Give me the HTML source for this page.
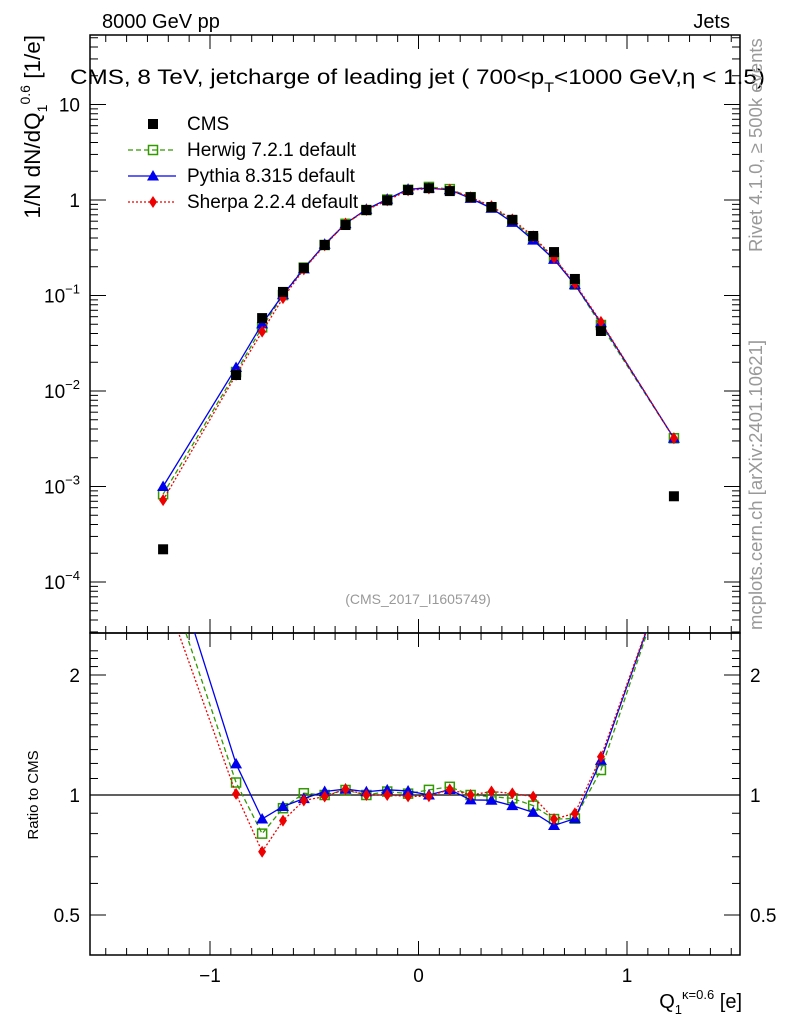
<!DOCTYPE html>
<html><head><meta charset="utf-8"><style>
body{margin:0;background:#fff;}
svg text{font-family:"Liberation Sans",sans-serif;}
</style></head><body>
<svg id="c" width="786" height="1024" xmlns="http://www.w3.org/2000/svg">
<defs>
<clipPath id="cm"><rect x="90" y="35" width="650" height="598"/></clipPath>
<clipPath id="cr"><rect x="90" y="633" width="650" height="322"/></clipPath>
</defs>
<g id="static"></g>
</svg>
<script>
const xs=[-1.225,-0.875,-0.75,-0.65,-0.55,-0.45,-0.35,-0.25,-0.15,-0.05,0.05,0.15,0.25,0.35,0.45,0.55,0.65,0.75,0.875,1.225];
const cms=[2.2e-4,0.0147,0.058,0.109,0.194,0.338,0.547,0.785,0.99,1.27,1.33,1.24,1.07,0.845,0.62,0.42,0.285,0.149,0.0425,7.9e-4];
const herwig=[8.3e-4,0.0158,0.0464,0.101,0.196,0.338,0.563,0.785,1.01,1.28,1.37,1.30,1.07,0.837,0.608,0.395,0.248,0.130,0.0491,3.2e-3];
const pythia=[1.0e-3,0.0176,0.0505,0.102,0.190,0.345,0.566,0.80,1.02,1.30,1.33,1.28,1.04,0.82,0.583,0.38,0.239,0.130,0.0519,3.2e-3];
const sherpa=[7.2e-4,0.0148,0.0418,0.094,0.188,0.335,0.566,0.785,0.99,1.26,1.32,1.28,1.07,0.862,0.626,0.416,0.248,0.134,0.053,3.2e-3];
const xTicks=[-1,0,1];
const yTicks=[10,1,0.1,0.01,0.001,0.0001];
const rTicks=[0.5,1,2];

const NS="http://www.w3.org/2000/svg";
const svg=document.getElementById('c');
const X=v=>418.5+208.5*v;
const Y=v=>200-95.5*Math.log10(v);
const R=v=>795-398.6*Math.log10(v);
function el(t,a,p){const e=document.createElementNS(NS,t);for(const k in a)e.setAttribute(k,a[k]);(p||svg).appendChild(e);return e;}
function txt(x,y,s,size,anchor,fill,extra){const t=el('text',Object.assign({x:x,y:y,'font-size':size,'text-anchor':anchor||'start',fill:fill||'#000'},extra||{}));t.innerHTML=s;return t;}

let f1=el('rect',{x:90,y:35,width:650,height:598,fill:'none',stroke:'#000','stroke-width':1.5});

let f2=el('rect',{x:90,y:633,width:650,height:322,fill:'none',stroke:'#000','stroke-width':1.5});


for(let i=-15;i<=15;i++){const v=i/10;const x=X(v);if(x<91||x>739)continue;const L=(i%10===0)?14:7;
 for(const [yb,yt] of [[633,35],[955,633]]){el('line',{x1:x,y1:yb,x2:x,y2:yb-L,stroke:'#000'});el('line',{x1:x,y1:yt,x2:x,y2:yt+L,stroke:'#000'});}}
xTicks.forEach(v=>{const t=txt(X(v),982,v<0?'\u2212'+Math.abs(v):String(v),19,'middle');});
for(let d=-5;d<=1;d++){for(let m=1;m<10;m++){const v=m*Math.pow(10,d);const y=Y(v);if(y<36||y>632)continue;const L=m===1?16:8;
 el('line',{x1:90,y1:y,x2:90+L,y2:y,stroke:'#000'});el('line',{x1:740,y1:y,x2:740-L,y2:y,stroke:'#000'});}}
yTicks.forEach(v=>{const y=Y(v);const e=Math.round(Math.log10(v));let t;
 if(e===1)t=txt(80,y+7,'10',19,'end');else if(e===0)t=txt(80,y+7,'1',19,'end');
 else t=txt(80,y+7,'10<tspan dy="-9" font-size="13">'+(e<0?'\u2212':'')+Math.abs(e)+'</tspan>',19,'end');
 });
for(let k=5;k<=23;k++){const v=k/10;const y=R(v);if(y<634||y>954)continue;const L=(v===0.5||v===1||v===2)?16:8;
 el('line',{x1:90,y1:y,x2:90+L,y2:y,stroke:'#000'});el('line',{x1:740,y1:y,x2:740-L,y2:y,stroke:'#000'});}
rTicks.forEach(v=>{const y=R(v);let t=txt(80,y+7,String(v),19,'end');
 t=txt(750,y+7,String(v),19,'start');});
let ul=el('line',{x1:90,y1:R(1),x2:740,y2:R(1),stroke:'#000','stroke-width':1.2});


function marker(g,type,x,y,col){
 if(type==='sq')el('rect',{x:x-5,y:y-5,width:10,height:10,fill:col},g);
 else if(type==='osq')el('rect',{x:x-4.5,y:y-4.5,width:9,height:9,fill:'none',stroke:col,'stroke-width':1.5},g);
 else if(type==='tri')el('polygon',{points:`${x},${y-6} ${x-6},${y+4.5} ${x+6},${y+4.5}`,fill:col},g);
 else if(type==='dia')el('polygon',{points:`${x},${y-6} ${x+4},${y} ${x},${y+6} ${x-4},${y}`,fill:col},g);
}
const series=[
 {name:'herwig',vals:herwig,col:'#339900',dash:'5,3',m:'osq'},
 {name:'pythia',vals:pythia,col:'#0000ee',dash:'',m:'tri'},
 {name:'sherpa',vals:sherpa,col:'#ee0000',dash:'2,2',m:'dia'}];
series.forEach(s=>{
 const g=el('g',{'clip-path':'url(#cm)'});
 
 el('polyline',{points:xs.map((x,i)=>X(x)+','+Y(s.vals[i])).join(' '),fill:'none',stroke:s.col,'stroke-width':1.3,'stroke-dasharray':s.dash},g);
 xs.forEach((x,i)=>marker(g,s.m,X(x),Y(s.vals[i]),s.col));
 const gr=el('g',{'clip-path':'url(#cr)'});
 
 el('polyline',{points:xs.map((x,i)=>X(x)+','+R(s.vals[i]/cms[i])).join(' '),fill:'none',stroke:s.col,'stroke-width':1.3,'stroke-dasharray':s.dash},gr);
 xs.forEach((x,i)=>marker(gr,s.m,X(x),R(s.vals[i]/cms[i]),s.col));
});
const gc=el('g',{'clip-path':'url(#cm)'});

xs.forEach((x,i)=>marker(gc,'sq',X(x),Y(cms[i]),'#000'));

const leg=[['CMS','sq','#000',null],['Herwig 7.2.1 default','osq','#339900','5,3'],['Pythia 8.315 default','tri','#0000ee',''],['Sherpa 2.2.4 default','dia','#ee0000','2,2']];
leg.forEach((L,i)=>{const y=124+26*i;const g=el('g',{});
 
 if(L[3]!==null)el('line',{x1:128,y1:y,x2:176,y2:y,stroke:L[2],'stroke-width':1.3,'stroke-dasharray':L[3]},g);
 marker(g,L[1],153,y,L[2]);
 const t=el('text',{x:187,y:y+6,'font-size':19},g);t.textContent=L[0];});

let t;
t=txt(102,28,'8000 GeV pp',20);
t=txt(730,28,'Jets',20,'end');
t=txt(70,84,'CMS, 8 TeV, jetcharge of leading jet ( 700&lt;p<tspan dy="8" font-size="14">T</tspan><tspan dy="-8">&lt;1000 GeV,η &lt; 1.5)</tspan>',21,'start',null,{textLength:695,lengthAdjust:'spacingAndGlyphs'});

t=txt(418,604,'(CMS_2017_I1605749)',14,'middle','#999');
t=txt(0,0,'1/N dN/dQ<tspan dy="7" font-size="14">1</tspan><tspan dy="-17" font-size="14">0.6</tspan><tspan dy="10"> [1/e]</tspan>',22.5,'end',null,{transform:'translate(40,35) rotate(-90)'});

t=txt(0,0,'Ratio to CMS',15,'middle',null,{transform:'translate(38,795) rotate(-90)'});

t=txt(742,1008,'Q<tspan dy="6" font-size="13">1</tspan><tspan dy="-15" font-size="13">κ=0.6</tspan><tspan dy="9"> [e]</tspan>',20,'end');

t=txt(0,0,'Rivet 4.1.0, ≥ 500k events',18.5,'start','#999',{transform:'translate(762,252) rotate(-90)'});

t=txt(0,0,'mcplots.cern.ch [arXiv:2401.10621]',18.5,'start','#999',{transform:'translate(762,630) rotate(-90)'});

</script>
</body></html>
